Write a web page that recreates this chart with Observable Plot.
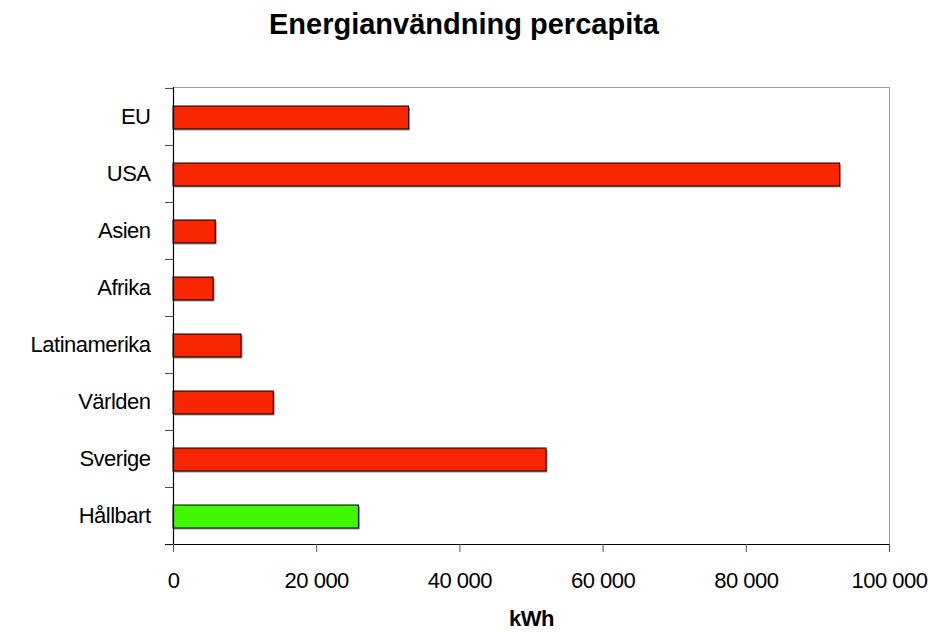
<!DOCTYPE html>
<html><head><meta charset="utf-8">
<script src="https://cdn.jsdelivr.net/npm/d3@7"></script>
<script src="https://cdn.jsdelivr.net/npm/@observablehq/plot@0.6"></script>
<style>
body{margin:0;background:#fff;font-family:"Liberation Sans",Arial,sans-serif}
#title{width:928px;text-align:center;font-weight:bold;font-size:29px;line-height:29px;padding-top:10px;height:29px;color:#000}
#chart svg{display:block}
</style></head><body>
<div id="title">Energianvändning percapita</div>
<div id="chart"></div>
<script>
const regions = ["EU","USA","Asien","Afrika","Latinamerika","Världen","Sverige","Hållbart"];
const energy = [32900, 93100, 5900, 5600, 9500, 14000, 52100, 25900];
const kinds = ["nu","nu","nu","nu","nu","nu","nu","mål"];
const xTicks = [0, 20000, 40000, 60000, 80000, 100000];
const xLabel = "kWh";

const data = regions.map((r, i) => ({region: r, kwh: energy[i], kind: kinds[i]}));
const height = 594, marginTop = 48, marginBottom = 89;
const step = (height - marginTop - marginBottom) / regions.length;
const fmt = d3.formatLocale({thousands: " ", grouping: [3], decimal: ","}).format(",d");

const chart = Plot.plot({
  width: 928,
  height,
  marginTop,
  marginBottom,
  marginLeft: 173,
  marginRight: 39,
  style: {fontFamily: '"Liberation Sans", Arial, sans-serif', color: "#000", background: "#fff", letterSpacing: "-0.5px"},
  x: {domain: [0, 100000], label: null},
  y: {domain: regions, padding: 0, label: null},
  color: {domain: ["nu", "mål"], range: ["#f72500", "#40f700"]},
  marks: [
    Plot.frame({stroke: "#a0a0a0"}),
    Plot.barX(data, {x: "kwh", y: "region", fill: "#9a9a9a", insetTop: 18, insetBottom: 16, dx: 1.5, dy: 1.5}),
    Plot.barX(data, {x: "kwh", y: "region", fill: "kind", stroke: "#000", strokeWidth: 1, insetTop: 18, insetBottom: 16}),
    Plot.ruleX([0], {stroke: "#000", strokeWidth: 1.2}),
    Plot.frame({anchor: "bottom", stroke: "#000", strokeWidth: 1.2}),
    Plot.axisX({ticks: xTicks, tickFormat: fmt, tickSize: 8, tickPadding: 20, fontSize: 22, stroke: "#555", label: null}),
    Plot.axisY({tickSize: 0, tickPadding: 23, fontSize: 22, label: null}),
    Plot.axisY({ticks: regions, text: null, tickSize: 8, stroke: "#444", dy: -step / 2, label: null}),
    Plot.axisY({ticks: regions.slice(-1), text: null, tickSize: 8, stroke: "#000", dy: step / 2, label: null}),
    Plot.text([xLabel], {text: d => d, frameAnchor: "bottom", dy: 74, fontSize: 22, fontWeight: "bold", lineAnchor: "middle"})
  ]
});
document.getElementById("chart").appendChild(chart);
</script>
</body></html>
